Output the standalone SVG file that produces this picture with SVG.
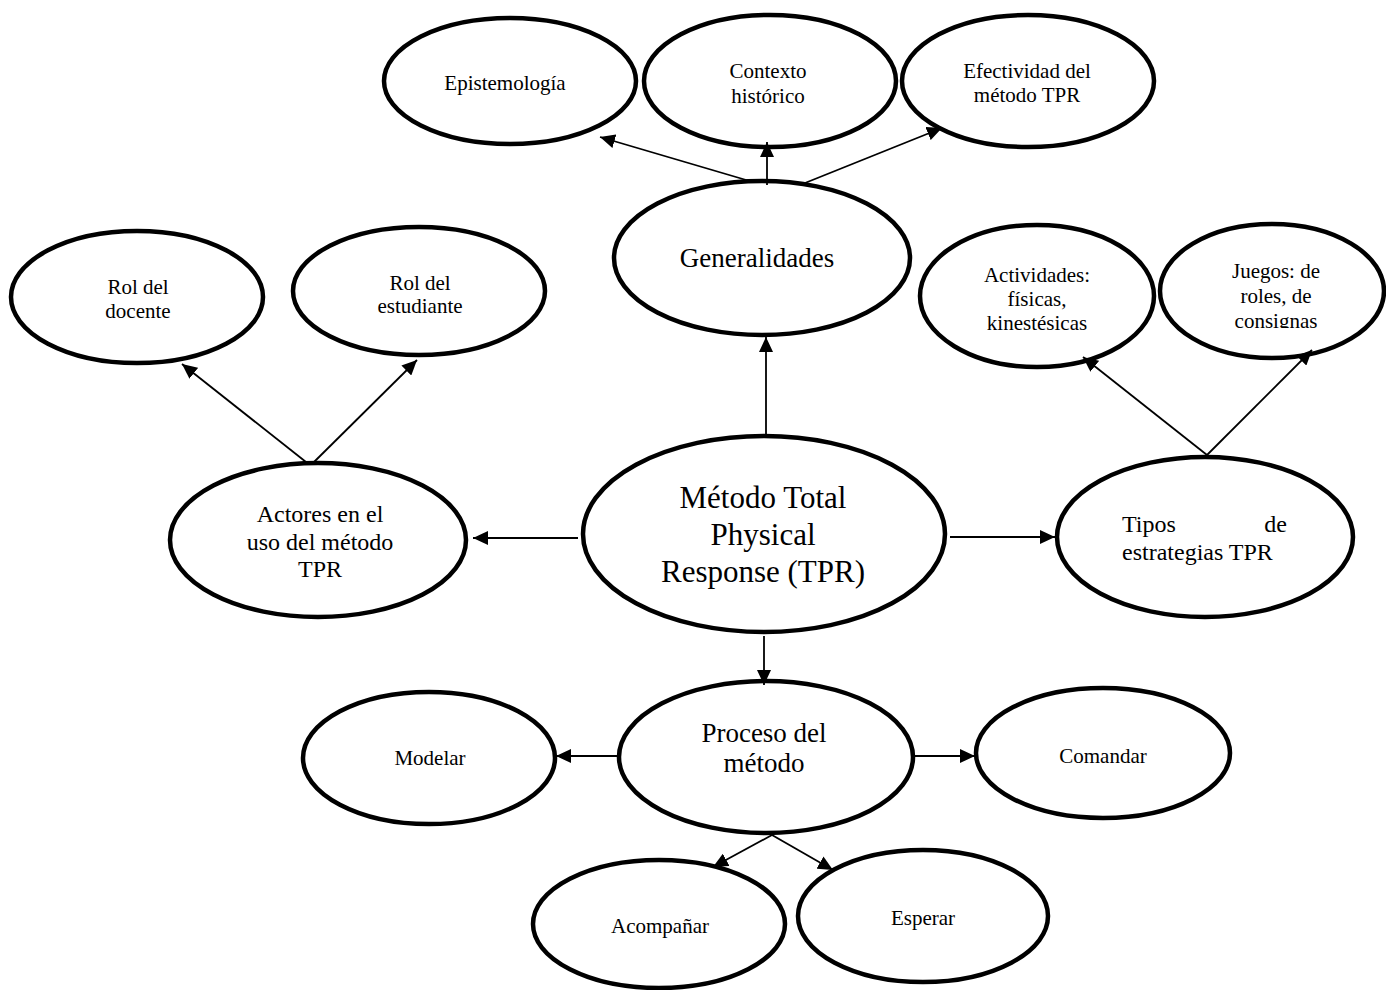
<svg xmlns="http://www.w3.org/2000/svg" width="1386" height="990" viewBox="0 0 1386 990">
<defs>
<style>
.node ellipse{fill:#fff;stroke:#000;stroke-width:4.5}
text{font-family:"Liberation Serif","Times New Roman",serif;fill:#000;text-anchor:middle}
.s{font-size:21px}
.m{font-size:24px}
.l{font-size:27px}
.xl{font-size:31px}
.conn line{stroke:#000;stroke-width:1.8;marker-end:url(#ah)}
</style>
<marker id="ah" markerUnits="userSpaceOnUse" markerWidth="16" markerHeight="14" refX="15" refY="7" orient="auto">
<path d="M0,0 L15,7 L0,14 Z" fill="#000"/>
</marker>
<clipPath id="jclip"><rect x="1160" y="220" width="226" height="108"/></clipPath>
</defs>
<rect width="1386" height="990" fill="#fff"/>

<g id="n-epistemologia" class="node"><ellipse cx="510" cy="81" rx="126" ry="63"/><text class="s" x="505" y="90">Epistemología</text></g>
<g id="n-contexto" class="node"><ellipse cx="770" cy="81" rx="126" ry="66"/><text class="s" x="768" y="78">Contexto</text><text class="s" x="768" y="103">histórico</text></g>
<g id="n-efectividad" class="node"><ellipse cx="1028" cy="81" rx="126" ry="66"/><text class="s" x="1027" y="78">Efectividad del</text><text class="s" x="1027" y="102">método TPR</text></g>
<g id="n-generalidades" class="node"><ellipse cx="762" cy="258" rx="148" ry="77"/><text class="l" x="757" y="267">Generalidades</text></g>
<g id="n-rol-docente" class="node"><ellipse cx="137" cy="297" rx="126" ry="66"/><text class="s" x="138" y="294">Rol del</text><text class="s" x="138" y="318">docente</text></g>
<g id="n-rol-estudiante" class="node"><ellipse cx="419" cy="291" rx="126" ry="64"/><text class="s" x="420" y="290">Rol del</text><text class="s" x="420" y="313">estudiante</text></g>
<g id="n-actividades" class="node"><ellipse cx="1037" cy="296" rx="117" ry="71"/><text class="s" x="1037" y="282">Actividades:</text><text class="s" x="1037" y="306">físicas,</text><text class="s" x="1037" y="330">kinestésicas</text></g>
<g id="n-juegos" class="node"><ellipse cx="1272" cy="291" rx="112" ry="67"/><g clip-path="url(#jclip)"><text class="s" x="1276" y="278">Juegos: de</text><text class="s" x="1276" y="303">roles, de</text><text class="s" x="1276" y="328">consignas</text></g></g>
<g id="n-actores" class="node"><ellipse cx="318" cy="540" rx="148" ry="77"/><text class="m" x="320" y="522">Actores en el</text><text class="m" x="320" y="550">uso del método</text><text class="m" x="320" y="577">TPR</text></g>
<g id="n-metodo" class="node"><ellipse cx="764" cy="534" rx="181" ry="98"/><text class="xl" x="763" y="508">Método Total</text><text class="xl" x="763" y="545">Physical</text><text class="xl" x="763" y="582">Response (TPR)</text></g>
<g id="n-tipos" class="node"><ellipse cx="1205" cy="537" rx="148" ry="80"/><text class="m" x="1122" y="532" style="text-anchor:start">Tipos</text><text class="m" x="1287" y="532" style="text-anchor:end">de</text><text class="m" x="1122" y="560" style="text-anchor:start">estrategias TPR</text></g>
<g id="n-modelar" class="node"><ellipse cx="429" cy="758" rx="126" ry="66"/><text class="s" x="430" y="765">Modelar</text></g>
<g id="n-proceso" class="node"><ellipse cx="766" cy="757" rx="147" ry="76"/><text class="l" x="764" y="742">Proceso del</text><text class="l" x="764" y="772">método</text></g>
<g id="n-comandar" class="node"><ellipse cx="1103" cy="753" rx="127" ry="65"/><text class="s" x="1103" y="763">Comandar</text></g>
<g id="n-acompanar" class="node"><ellipse cx="659" cy="924" rx="126" ry="64"/><text class="s" x="660" y="933">Acompañar</text></g>
<g id="n-esperar" class="node"><ellipse cx="923" cy="916" rx="125" ry="66"/><text class="s" x="923" y="925">Esperar</text></g>

<g id="connectors" class="conn">
<line x1="766" y1="436" x2="766" y2="337"/>
<line x1="753" y1="182" x2="600" y2="137"/>
<line x1="767" y1="185" x2="767" y2="142"/>
<line x1="805" y1="183" x2="942" y2="128"/>
<line x1="578" y1="538" x2="473" y2="538"/>
<line x1="306" y1="462" x2="182" y2="364"/>
<line x1="314" y1="462" x2="417" y2="360"/>
<line x1="950" y1="537" x2="1055" y2="537"/>
<line x1="1207" y1="455" x2="1083" y2="357"/>
<line x1="1207" y1="455" x2="1312" y2="350"/>
<line x1="764" y1="636" x2="764" y2="685"/>
<line x1="617" y1="756" x2="556" y2="756"/>
<line x1="915" y1="756" x2="975" y2="756"/>
<line x1="772" y1="835" x2="713" y2="867"/>
<line x1="772" y1="835" x2="833" y2="870"/>
</g>
</svg>
